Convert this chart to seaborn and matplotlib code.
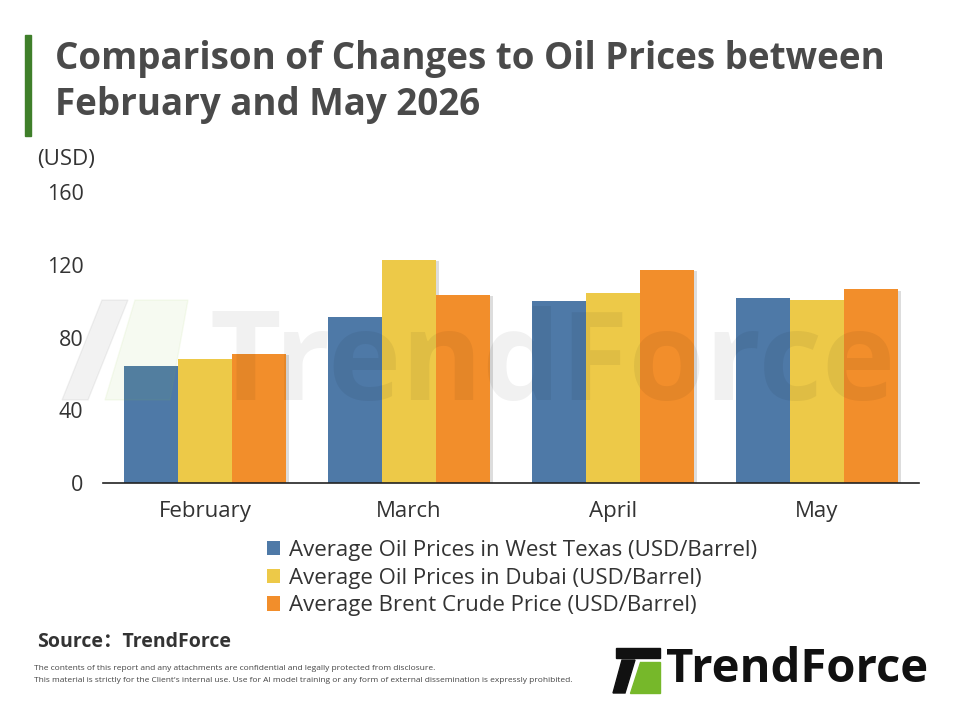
import matplotlib
matplotlib.use("Agg")
import matplotlib.pyplot as plt
import matplotlib.patheffects as pe
from matplotlib.patches import Patch, Polygon, Rectangle
import pandas as pd
import seaborn as sns

months = ["February", "March", "April", "May"]
series = [
    "Average Oil Prices in West Texas (USD/Barrel)",
    "Average Oil Prices in Dubai (USD/Barrel)",
    "Average Brent Crude Price (USD/Barrel)",
]
wti = [64.3, 91.3, 100.0, 101.6]
dubai = [68.1, 122.6, 104.4, 100.5]
brent = [70.9, 103.4, 117.1, 106.5]
yticks = [0, 40, 80, 120, 160]
colors = ["#4E79A7", "#EDC948", "#F28E2B"]

rows = []
for name, vals in zip(series, [wti, dubai, brent]):
    for m, v in zip(months, vals):
        rows.append({"Month": m, "Series": name, "Price": v})
df = pd.DataFrame(rows)

sns.set_style("white")
plt.rcParams["font.family"] = ["Open Sans", "DejaVu Sans"]

fig = plt.figure(figsize=(9.6, 7.2), dpi=100)
ax = fig.add_axes([103 / 960, 1 - 483 / 720, 816 / 960, 291 / 720])

sns.barplot(data=df, x="Month", y="Price", hue="Series", palette=colors,
            width=0.79, saturation=1, ax=ax, legend=False)
for bar in ax.patches:
    bar.set_path_effects([pe.SimplePatchShadow(offset=(2.5, -1), alpha=0.2, shadow_rgbFace="#555555"),
                          pe.Normal()])
    bar.set_linewidth(0)

ax.set_ylim(0, 160)
ax.set_yticks(yticks)
ax.set_xlim(-0.5, 3.5)
ax.set_xlabel("")
ax.set_ylabel("")
ax.tick_params(axis="y", length=0, pad=14, labelsize=15.5, labelcolor="#333333")
ax.tick_params(axis="x", length=0, pad=13, labelsize=16, labelcolor="#333333")
for s in ["top", "right", "left"]:
    ax.spines[s].set_visible(False)
ax.spines["bottom"].set_color("#222222")
ax.spines["bottom"].set_linewidth(1.2)

fig.text(37 / 960, 1 - 159 / 720, "(USD)", fontsize=16, color="#333333", va="center")

# title with green bar
fig.patches.append(Rectangle((25 / 960, 1 - 136 / 720), 6 / 960, 101 / 720,
                             transform=fig.transFigure, color="#3F7F2A"))
fig.text(55 / 960, 1 - 59 / 720, "Comparison of Changes to Oil Prices between",
         fontsize=26.5, fontweight="bold", color="#4A4A4A", va="center")
fig.text(55 / 960, 1 - 105 / 720, "February and May 2026",
         fontsize=26.5, fontweight="bold", color="#4A4A4A", va="center")

handles = [Patch(facecolor=c, edgecolor="none") for c in colors]
fig.legend(handles, series, loc="upper center", bbox_to_anchor=(512 / 960, 1 - 520 / 720),
           frameon=False, fontsize=16, handlelength=0.6, handleheight=0.6,
           handletextpad=0.4, labelspacing=0.3, labelcolor="#333333")

# watermark
fig.text(210 / 960, 1 - 400 / 720, "TrendForce", fontsize=89, fontweight="bold",
         color="#000000", alpha=0.055, va="baseline")
fig.patches.append(Polygon([(62 / 960, 1 - 400 / 720), (88 / 960, 1 - 400 / 720),
                            (128 / 960, 1 - 300 / 720), (102 / 960, 1 - 300 / 720)],
                           closed=True, transform=fig.transFigure, color="#000000", alpha=0.05))
fig.patches.append(Polygon([(105 / 960, 1 - 400 / 720), (170 / 960, 1 - 400 / 720),
                            (188 / 960, 1 - 300 / 720), (135 / 960, 1 - 300 / 720)],
                           closed=True, transform=fig.transFigure, color="#8DC63F", alpha=0.07))

# footer
fig.text(37 / 960, 1 - 642 / 720, "Source：TrendForce", fontsize=14, fontweight="bold",
         color="#333333", va="center", family=["Open Sans", "Noto Sans CJK SC", "DejaVu Sans"])
fig.text(34 / 960, 1 - 669 / 720,
         "The contents of this report and any attachments are confidential and legally protected from disclosure.",
         fontsize=6.05, color="#444444", va="center")
fig.text(34 / 960, 1 - 681 / 720,
         "This material is strictly for the Client's internal use. Use for AI model training or any form of external dissemination is expressly prohibited.",
         fontsize=6.05, color="#444444", va="center")

# logo
fig.patches.append(Polygon([(613 / 960, 1 - 693 / 720), (625 / 960, 1 - 693 / 720),
                            (635 / 960, 1 - 660 / 720), (622 / 960, 1 - 660 / 720)],
                           closed=True, transform=fig.transFigure, color="#111111"))
fig.patches.append(Polygon([(616 / 960, 1 - 658 / 720), (660 / 960, 1 - 658 / 720),
                            (660 / 960, 1 - 648 / 720), (616 / 960, 1 - 648 / 720)],
                           closed=True, transform=fig.transFigure, color="#111111"))
fig.patches.append(Polygon([(630 / 960, 1 - 693 / 720), (660 / 960, 1 - 693 / 720),
                            (660 / 960, 1 - 662 / 720), (640 / 960, 1 - 662 / 720)],
                           closed=True, transform=fig.transFigure, color="#76B82A"))
fig.text(666 / 960, 1 - 670 / 720, "TrendForce", fontsize=34, fontweight="bold",
         color="#111111", va="center")

fig.savefig("out.png", dpi=100, facecolor="white")
